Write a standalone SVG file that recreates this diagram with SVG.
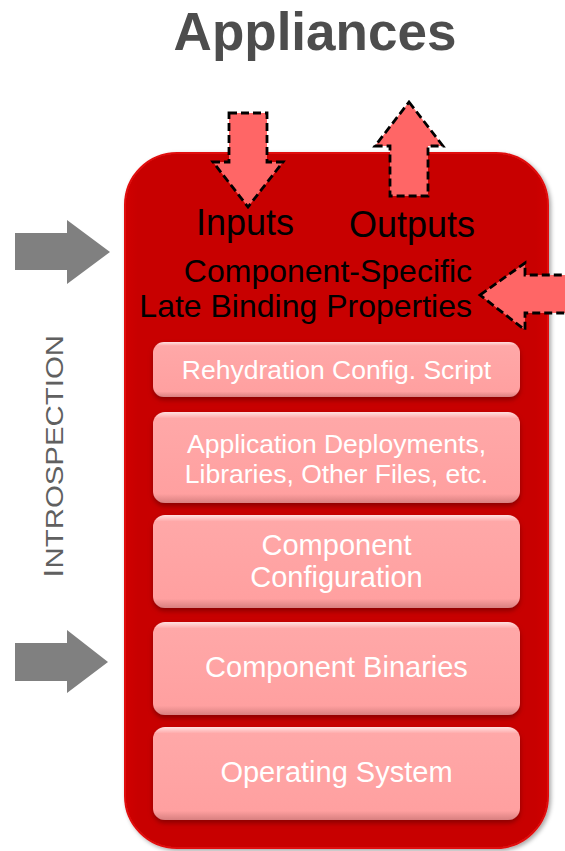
<svg xmlns="http://www.w3.org/2000/svg" width="565" height="851" viewBox="0 0 565 851">
<defs>
<style>
.t{font-family:"Liberation Sans",Arial,sans-serif}
.box{fill:url(#boxg);filter:url(#bsh)}
.bt{font-family:"Liberation Sans",Arial,sans-serif;fill:#fff;text-anchor:middle}
.dash{fill:#FF6666;stroke:#000;stroke-width:2.8;stroke-dasharray:8 4;stroke-linejoin:miter}
.grey{fill:#808080}
</style>
<linearGradient id="boxg" x1="0" y1="0" x2="0" y2="1">
<stop offset="0" stop-color="#FFE0E0"/>
<stop offset="0.07" stop-color="#FFA8A8"/>
<stop offset="0.9" stop-color="#FFA0A0"/>
<stop offset="1" stop-color="#D88080"/>
</linearGradient>
<linearGradient id="mg" x1="0" y1="0" x2="1" y2="0">
<stop offset="0" stop-color="#D00000"/>
<stop offset="0.03" stop-color="#C80000"/>
<stop offset="0.97" stop-color="#C80000"/>
<stop offset="1" stop-color="#D00000"/>
</linearGradient>
<filter id="bsh" x="-5%" y="-10%" width="110%" height="130%">
<feDropShadow dx="0" dy="3" stdDeviation="2.5" flood-color="#7A0000" flood-opacity="0.8"/>
</filter>
<filter id="msh" x="-5%" y="-5%" width="110%" height="110%">
<feDropShadow dx="2" dy="2" stdDeviation="2" flood-color="#000" flood-opacity="0.35"/>
</filter>
</defs>
<text class="t" x="315" y="50" font-size="53" font-weight="bold" fill="#4D4D4D" text-anchor="middle">Appliances</text>
<g id="appliance">
<rect x="125" y="153" width="423" height="695" rx="52" fill="url(#mg)" stroke="#E01010" stroke-width="2" filter="url(#msh)"/>
<text class="t" x="245" y="235" font-size="36" text-anchor="middle" fill="#000">Inputs</text>
<text class="t" x="412" y="237" font-size="36" text-anchor="middle" fill="#000">Outputs</text>
<text class="t" x="472" y="282" font-size="32" text-anchor="end" fill="#000">Component-Specific</text>
<text class="t" x="472" y="317" font-size="32" text-anchor="end" fill="#000">Late Binding Properties</text>
</g>
<g id="rehydration">
<rect class="box" x="153" y="342" width="367" height="55" rx="11"/>
<text class="bt" x="336.5" y="379" font-size="26.5">Rehydration Config. Script</text>
</g>
<g id="deployments">
<rect class="box" x="153" y="412" width="367" height="91" rx="12"/>
<text class="bt" x="336.5" y="453" font-size="26.5">Application Deployments,</text>
<text class="bt" x="336.5" y="483" font-size="26.5">Libraries, Other Files, etc.</text>
</g>
<g id="configuration">
<rect class="box" x="153" y="515" width="367" height="93" rx="12"/>
<text class="bt" x="336.5" y="555" font-size="29">Component</text>
<text class="bt" x="336.5" y="587" font-size="29">Configuration</text>
</g>
<g id="binaries">
<rect class="box" x="153" y="622" width="367" height="93" rx="12"/>
<text class="bt" x="336.5" y="677" font-size="29">Component Binaries</text>
</g>
<g id="os">
<rect class="box" x="153" y="727" width="367" height="93" rx="12"/>
<text class="bt" x="336.5" y="782" font-size="29">Operating System</text>
</g>
<g id="introspection">
<text class="t" transform="translate(63,578) rotate(-90)" fill="#606060" textLength="243" lengthAdjust="spacingAndGlyphs"><tspan font-size="28">I</tspan><tspan font-size="24">NTROSPECTION</tspan></text>
</g>
<g id="connectors">
<polygon class="dash" points="229,113 267,113 267,162 283,162 248,207 213,162 229,162"/>
<polygon class="dash" points="409,102 443,146 428,146 428,196 390,196 390,146 375,146"/>
<polygon class="dash" points="480,295 525,263 525,275 570,275 570,313 525,313 525,330"/>
<polygon class="grey" points="15,233 67,233 67,220 110,252 67,284 67,270 15,270"/>
<polygon class="grey" points="15,643 67,643 67,630 108,662 67,693 67,681 15,681"/>
</g>
</svg>
